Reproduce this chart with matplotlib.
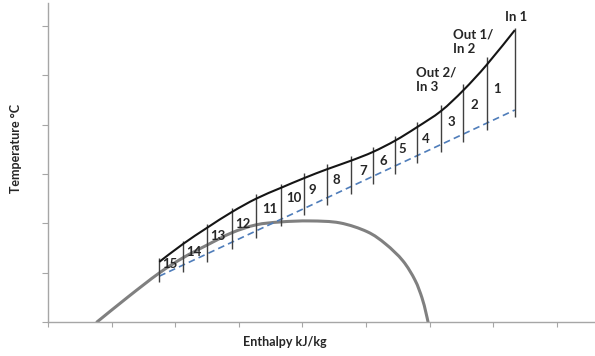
import matplotlib
matplotlib.use("Agg")
import matplotlib.pyplot as plt
from matplotlib.path import Path
from matplotlib.patches import PathPatch

plt.rcParams['font.family'] = ['Lato', 'DejaVu Sans']

# Saturation dome (enthalpy, temperature) in arbitrary chart units
dome_h = [0.77, 1.26, 1.745, 2.12, 2.50, 2.89, 3.27, 3.66, 4.12, 4.59,
          5.02, 5.31, 5.58, 5.77, 5.88, 5.94, 5.975]
dome_t = [0.0, 0.51, 0.99, 1.30, 1.56, 1.81, 1.97, 2.03, 2.05, 2.01,
          1.83, 1.58, 1.24, 0.85, 0.49, 0.20, 0.0]

# Hot stream composite curve, sampled at the segment boundaries
hot_h = [1.75, 2.12, 2.50, 2.89, 3.27, 3.66, 4.03, 4.39, 4.76, 5.11,
         5.46, 5.80, 6.18, 6.53, 6.90, 7.34]
hot_t = [1.22, 1.58, 1.91, 2.23, 2.50, 2.72, 2.92, 3.10, 3.27, 3.45,
         3.68, 3.95, 4.28, 4.70, 5.22, 5.92]

# Cold stream line (straight)
cold_h = [1.75, 7.34]
cold_t = [0.93, 4.30]

# Segment divider extents
div_top = [1.30, 1.64, 1.99, 2.31, 2.60, 2.79, 3.02, 3.20, 3.37, 3.55,
           3.78, 4.05, 4.40, 4.82, 5.38, 5.96]
div_bottom = [0.81, 1.01, 1.22, 1.48, 1.70, 1.95, 2.17, 2.37, 2.60, 2.80,
              3.00, 3.23, 3.45, 3.65, 3.90, 4.16]

# Segment numbers and where they sit
seg_labels = ['1', '2', '3', '4', '5', '6', '7', '8', '9', '10',
              '11', '12', '13', '14', '15']
seg_label_h = [7.06, 6.70, 6.34, 5.94, 5.57, 5.27, 4.95, 4.54, 4.15, 3.87,
               3.48, 3.07, 2.67, 2.30, 1.92]
seg_label_t = [4.73, 4.40, 4.06, 3.71, 3.51, 3.27, 3.06, 2.88, 2.68, 2.52,
               2.29, 1.99, 1.74, 1.42, 1.18]


def smooth_path(xs, ys):
    """Bezier path passing through every given point (Catmull-Rom tangents)."""
    pts = list(zip(xs, ys))
    n = len(pts)
    verts = [pts[0]]
    codes = [Path.MOVETO]
    for i in range(n - 1):
        p0 = pts[i - 1] if i > 0 else pts[i]
        p1 = pts[i]
        p2 = pts[i + 1]
        p3 = pts[i + 2] if i + 2 < n else pts[i + 1]
        c1 = (p1[0] + (p2[0] - p0[0]) / 6, p1[1] + (p2[1] - p0[1]) / 6)
        c2 = (p2[0] - (p3[0] - p1[0]) / 6, p2[1] - (p3[1] - p1[1]) / 6)
        verts += [c1, c2, p2]
        codes += [Path.CURVE4] * 3
    return Path(verts, codes)


fig = plt.figure(figsize=(5.95, 3.56), dpi=100)
ax = fig.add_axes([48 / 595, 34 / 356, 547 / 595, 319 / 356])

ax.add_patch(PathPatch(smooth_path(dome_h, dome_t), fill=False,
                       edgecolor='#808080', lw=2.2, capstyle='round', zorder=2))
ax.plot(cold_h, cold_t, color='#4f7dba', lw=1.2, ls=(0, (4, 2.5)), zorder=3)
ax.vlines(hot_h, div_bottom, div_top, color='#404040', lw=1.0, zorder=4)
ax.add_patch(PathPatch(smooth_path(hot_h, hot_t), fill=False,
                       edgecolor='#151515', lw=1.5, zorder=5))

for s, x, y in zip(seg_labels, seg_label_h, seg_label_t):
    ax.text(x, y, s, ha='center', va='center', fontsize=9.5,
            fontweight='bold', color='#262626', zorder=6)

ax.text(7.36, 6.19, 'In 1', ha='center', va='center', fontsize=9.5,
        fontweight='bold', color='#262626')
ax.text(6.37, 5.68, 'Out 1/\nIn 2', ha='left', va='center', fontsize=9.5,
        fontweight='bold', color='#262626', linespacing=1.25)
ax.text(5.79, 4.91, 'Out 2/\nIn 3', ha='left', va='center', fontsize=9.5,
        fontweight='bold', color='#262626', linespacing=1.25)

ax.set_xlim(0, 8.6)
ax.set_ylim(0, 6.47)
ax.set_xticks(range(0, 9))
ax.set_yticks(range(0, 7))
ax.set_xticklabels([])
ax.set_yticklabels([])
for side in ('top', 'right'):
    ax.spines[side].set_visible(False)
for side in ('left', 'bottom'):
    ax.spines[side].set_color('#a6a6a6')
    ax.spines[side].set_linewidth(1.0)
ax.tick_params(axis='x', direction='out', length=3.5, color='#a6a6a6')
ax.tick_params(axis='y', direction='out', length=4.5, color='#a6a6a6')

fig.text(16 / 595, 1 - 148 / 356, 'Temperature °C', rotation=90,
         ha='center', va='center', fontsize=9, fontweight='bold', color='#262626')
fig.text(285 / 595, 1 - 342 / 356, 'Enthalpy kJ/kg',
         ha='center', va='center', fontsize=9, fontweight='bold', color='#262626')

fig.savefig('out.png', dpi=100)
